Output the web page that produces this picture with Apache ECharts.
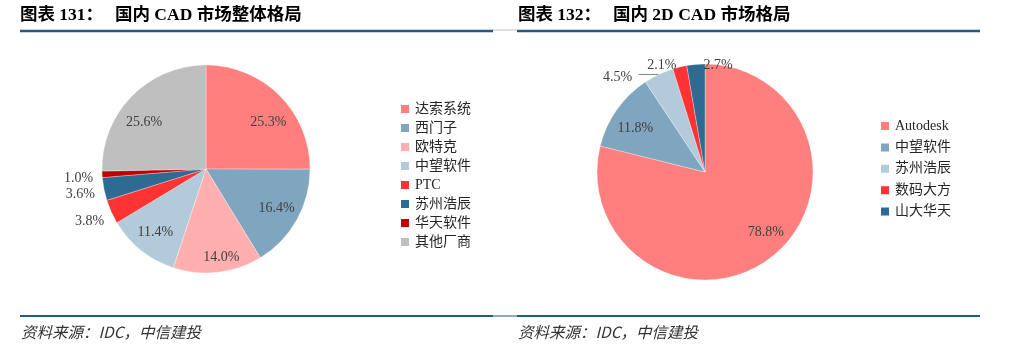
<!DOCTYPE html>
<html><head><meta charset="utf-8">
<script src="https://cdn.jsdelivr.net/npm/echarts@6/dist/echarts.min.js"></script>
<style>html,body{margin:0;padding:0;background:#fff}#c{width:1018px;height:354px}</style>
</head><body><div id="c"></div>
<script>
const leftTitleNo = '图表 131：';
const leftTitle = '国内 CAD 市场整体格局';
const rightTitleNo = '图表 132：';
const rightTitle = '国内 2D CAD 市场格局';
const sourceText = '资料来源：IDC，中信建投';

const leftNames = ['达索系统','西门子','欧特克','中望软件','PTC','苏州浩辰','华天软件','其他厂商'];
const leftValues = [25.3,16.4,14.0,11.4,3.8,3.6,1.0,25.6];
const leftColors = ['#FF7F7F','#7FA5BF','#FFAFAF','#B3CADA','#FF3333','#2F6A92','#C00000','#BFBFBF'];

const rightNames = ['Autodesk','中望软件','苏州浩辰','数码大方','山大华天'];
const rightValues = [78.8,11.8,4.5,2.1,2.7];
const rightColors = ['#FF7F7F','#7FA5BF','#B3CADA','#FF3333','#2F6A92'];

// label nudges (layout only), keyed by category name: [dx, dy]
const leftShift = { '达索系统': [5, 11], '其他厂商': [-4, 10], '欧特克': [6, 8],
  'PTC': [1.5, 8], '苏州浩辰': [0, 4], '华天软件': [0, 3.5] };
const rightShift = { 'Autodesk': [9, -6], '中望软件': [-1, 5],
  '苏州浩辰': [-3.5, 2.5], '山大华天': [40, 2.5] };

const FONT = '"Liberation Serif", "Noto Sans CJK SC", serif';
const labelColor = '#404040';
const SMALL = 5;

function mainData(names, values, colors, withLine, tight) {
  return names.map((n, i) => {
    const d = {
      name: n, value: values[i],
      itemStyle: { color: colors[i] },
      label: { show: values[i] < SMALL },
      labelLine: { show: values[i] < SMALL && withLine(i) }
    };
    if (tight(i)) { d.labelLine.length = 2; d.labelLine.length2 = 0; }
    return d;
  });
}
function overlayData(names, values) {
  return names.map((n, i) => ({
    name: n, value: values[i],
    itemStyle: { color: 'rgba(0,0,0,0)' },
    label: { show: values[i] >= SMALL }
  }));
}
const fmt = p => p.value.toFixed(1) + '%';
const lblStyle = { fontFamily: FONT, fontSize: 14, color: labelColor, formatter: fmt };

function shifter(names, shift) {
  return function (p) {
    const s = shift[names[p.dataIndex]];
    return s ? { dx: s[0], dy: s[1] } : {};
  };
}

function pieSeries(center, r, names, values, colors, withLine, tight, len, len2, shift) {
  return [
    {
      type: 'pie', center: center, radius: r, startAngle: 90, clockwise: true,
      avoidLabelOverlap: false, animation: false,
      itemStyle: { borderColor: '#fff', borderWidth: 0.3 },
      label: Object.assign({ position: 'outside', distanceToLabelLine: 3 }, lblStyle),
      labelLine: { length: len, length2: len2, lineStyle: { color: '#808080', width: 1 } },
      labelLayout: shifter(names, shift),
      emphasis: { disabled: true },
      data: mainData(names, values, colors, withLine, tight)
    },
    {
      type: 'pie', center: center, radius: [r / 2, r], startAngle: 90, clockwise: true,
      avoidLabelOverlap: false, animation: false, silent: true,
      label: Object.assign({ position: 'inside' }, lblStyle),
      labelLine: { show: false },
      labelLayout: shifter(names, shift),
      emphasis: { disabled: true },
      data: overlayData(names, values)
    }
  ];
}

const legendText = { fontFamily: FONT, fontSize: 14, color: '#262626', lineHeight: 14 };
const legendData = (names, colors) => names.map((n, i) => ({ name: n, itemStyle: { color: colors[i] } }));

const chart = echarts.init(document.getElementById('c'), null, { renderer: 'canvas' });
chart.setOption({
  backgroundColor: '#fff',
  animation: false,
  legend: [
    { orient: 'vertical', left: 394, top: 97, itemWidth: 10, itemHeight: 10, itemGap: 5,
      icon: 'rect', data: legendData(leftNames, leftColors), textStyle: legendText, selectedMode: false },
    { orient: 'vertical', left: 874, top: 114, itemWidth: 10, itemHeight: 10, itemGap: 7.4,
      icon: 'rect', data: legendData(rightNames, rightColors), textStyle: legendText, selectedMode: false }
  ],
  series: [].concat(
    pieSeries([206, 169], 104, leftNames, leftValues, leftColors, () => false, () => false, 4, 2, leftShift),
    pieSeries([705, 172], 108, rightNames, rightValues, rightColors,
      i => rightNames[i] === '苏州浩辰', i => rightNames[i] !== '苏州浩辰', 0, 20, rightShift)
  ),
  graphic: [
    { type: 'text', left: 20, top: 7, style: { text: leftTitleNo, font: 'bold 17.5px ' + FONT, fill: '#000' } },
    { type: 'text', left: 115, top: 7, style: { text: leftTitle, font: 'bold 17.5px ' + FONT, fill: '#000' } },
    { type: 'text', left: 518, top: 7, style: { text: rightTitleNo, font: 'bold 17.5px ' + FONT, fill: '#000' } },
    { type: 'text', left: 613, top: 7, style: { text: rightTitle, font: 'bold 17.5px ' + FONT, fill: '#000' } },
    { type: 'line', shape: { x1: 20, y1: 31, x2: 493, y2: 31 }, style: { stroke: '#1F5A88', lineWidth: 2.5 } },
    { type: 'line', shape: { x1: 493, y1: 30, x2: 517, y2: 30 }, style: { stroke: '#999', lineWidth: 0.6 } },
    { type: 'line', shape: { x1: 517, y1: 31, x2: 980, y2: 31 }, style: { stroke: '#1F5A88', lineWidth: 2.5 } },
    { type: 'line', shape: { x1: 20, y1: 316, x2: 493, y2: 316 }, style: { stroke: '#1F5A88', lineWidth: 2 } },
    { type: 'line', shape: { x1: 493, y1: 316, x2: 517, y2: 316 }, style: { stroke: '#1F5A88', lineWidth: 1 } },
    { type: 'line', shape: { x1: 517, y1: 316, x2: 980, y2: 316 }, style: { stroke: '#1F5A88', lineWidth: 2 } },
    { type: 'text', left: 21, top: 324, style: { text: sourceText, font: 'italic 15.5px "Noto Sans CJK SC", sans-serif', fill: '#333' } },
    { type: 'text', left: 518, top: 324, style: { text: sourceText, font: 'italic 15.5px "Noto Sans CJK SC", sans-serif', fill: '#333' } }
  ]
});
</script>
</body></html>
